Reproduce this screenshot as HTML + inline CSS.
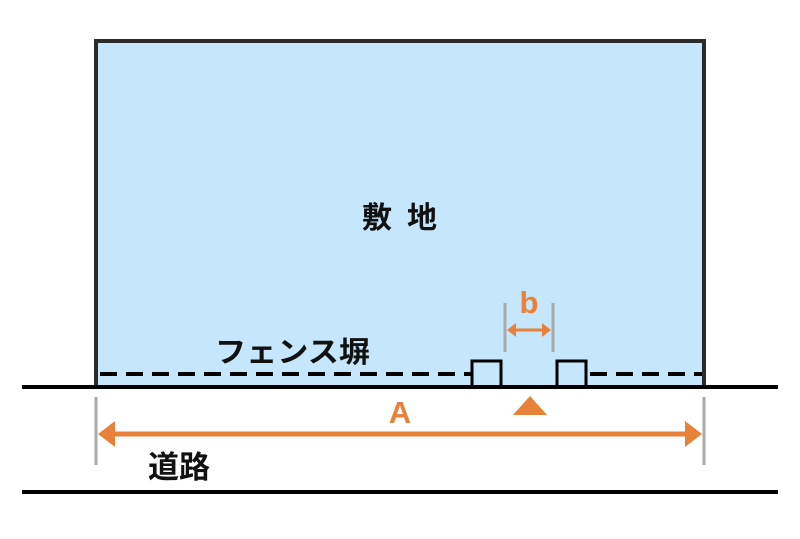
<!DOCTYPE html>
<html><head><meta charset="utf-8"><style>
body{margin:0;background:#fff;width:800px;height:534px;overflow:hidden}
</style></head><body>
<svg width="800" height="534" xmlns="http://www.w3.org/2000/svg">
<rect x="96" y="41" width="608" height="346" fill="#c5e6fb" stroke="#2b2b2b" stroke-width="4"/>
<line x1="100" y1="374" x2="472" y2="374" stroke="#000" stroke-width="4" stroke-dasharray="17,9"/>
<line x1="590" y1="374" x2="702" y2="374" stroke="#000" stroke-width="4" stroke-dasharray="17,9"/>
<rect x="472" y="361" width="29" height="26" fill="#c5e6fb" stroke="#000" stroke-width="3"/>
<rect x="557" y="361" width="29" height="26" fill="#c5e6fb" stroke="#000" stroke-width="3"/>
<line x1="22" y1="387" x2="778" y2="387" stroke="#000" stroke-width="4"/>
<line x1="22" y1="492" x2="778" y2="492" stroke="#000" stroke-width="4"/>
<line x1="505" y1="303" x2="505" y2="352" stroke="#aaa" stroke-width="3"/>
<line x1="553" y1="303" x2="553" y2="352" stroke="#aaa" stroke-width="3"/>
<line x1="514" y1="330" x2="544" y2="330" stroke="#e8823a" stroke-width="3"/>
<polygon points="507,330 516,323 516,337" fill="#e8823a"/>
<polygon points="551,330 542,323 542,337" fill="#e8823a"/>
<polygon points="530,396 513,415 547,415" fill="#e8823a"/>
<line x1="96" y1="397" x2="96" y2="465" stroke="#aaa" stroke-width="3"/>
<line x1="704" y1="397" x2="704" y2="465" stroke="#aaa" stroke-width="3"/>
<line x1="112" y1="434" x2="688" y2="434" stroke="#e8823a" stroke-width="5"/>
<polygon points="98,434 115,421 115,447" fill="#e8823a"/>
<polygon points="702,434 685,421 685,447" fill="#e8823a"/>
<g font-family="Liberation Sans, Noto Sans CJK JP, sans-serif" font-weight="bold">
<text x="362" y="228" font-size="30" textLength="75" lengthAdjust="spacing" fill="#111">敷 地</text>
<text x="215" y="362" font-size="29" textLength="155" lengthAdjust="spacingAndGlyphs" fill="#111">フェンス塀</text>
<text x="148" y="478" font-size="31" textLength="62" lengthAdjust="spacingAndGlyphs" fill="#111">道路</text>
<text x="400" y="423" font-size="31" text-anchor="middle" fill="#e8823a">A</text>
<text x="529" y="313" font-size="31" text-anchor="middle" fill="#e8823a">b</text>
</g>
</svg>
</body></html>
